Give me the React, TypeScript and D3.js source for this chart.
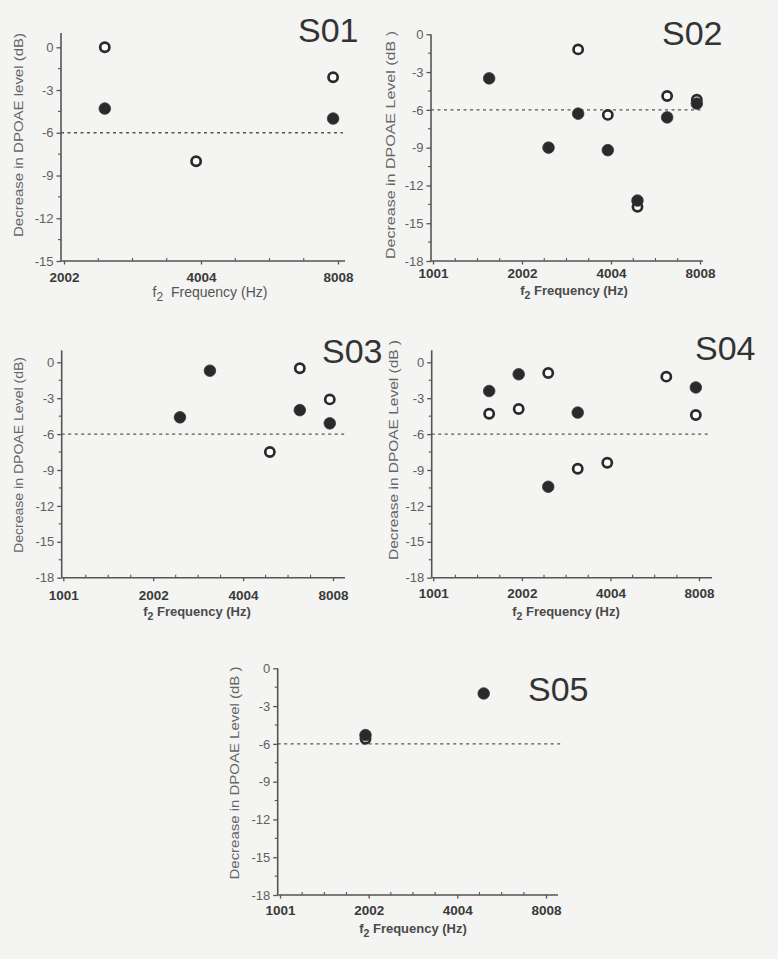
import React, { useEffect, useRef } from 'react'
import * as d3 from 'd3'

const xTicksWide = [1001, 2002, 4004, 8008]
const xTicksS01 = [2002, 4004, 8008]
const yTicks15 = [0, -3, -6, -9, -12, -15]
const yTicks18 = [0, -3, -6, -9, -12, -15, -18]
const criterion = -6

// [f2 frequency (Hz), decrease in DPOAE level (dB)]
const s01Filled = [[2461, -4.3], [7812, -5.0]]
const s01Open = [[2461, 0], [3906, -8.0], [7812, -2.1]]

const s02Filled = [[1550, -3.5], [2461, -9.0], [3100, -6.3], [3906, -9.2], [4921, -13.2], [6200, -6.6], [7812, -5.5]]
const s02Open = [[3100, -1.2], [3906, -6.4], [4921, -13.7], [6200, -4.9], [7812, -5.2]]

const s03Filled = [[2461, -4.6], [3100, -0.7], [6200, -4.0], [7812, -5.1]]
const s03Open = [[4921, -7.5], [6200, -0.5], [7812, -3.1]]

const s04Filled = [[1550, -2.4], [1953, -1.0], [2461, -10.4], [3100, -4.2], [7812, -2.1]]
const s04Open = [[1550, -4.3], [1953, -3.9], [2461, -0.9], [3100, -8.9], [3906, -8.4], [6200, -1.2], [7812, -4.4]]

const s05Filled = [[1953, -5.3], [4921, -2.0]]
const s05Open = [[1953, -5.6]]

const panels = [
	{
		name: 'S01', filled: s01Filled, open: s01Open, xTicks: xTicksS01, yTicks: yTicks15,
		axisX: 61, xr: [64, 338], xEnd: 345, y0: 47.3, yB: 261, yExt: 1, dashEnd: 343,
		title: [298, 42], yLab: [18, 135, 204], xLab: [210, 297], tickBase: 282,
		yText: 'Decrease in DPOAE level (dB)', s01: true,
	},
	{
		name: 'S02', filled: s02Filled, open: s02Open, xTicks: xTicksWide, yTicks: yTicks18,
		axisX: 431, xr: [433, 700], xEnd: 703, y0: 34.3, yB: 261, yExt: 0, dashEnd: 703,
		title: [662, 45], yLab: [390, 145, 228], xLab: [574, 295], tickBase: 278,
		yText: 'Decrease in DPOAE Level (dB )',
	},
	{
		name: 'S03', filled: s03Filled, open: s03Open, xTicks: xTicksWide, yTicks: yTicks18,
		axisX: 61.7, xr: [63.3, 333], xEnd: 345, y0: 362.3, yB: 577.7, yExt: 1, dashEnd: 345,
		title: [322, 363], yLab: [18, 455, 196], xLab: [197, 616], tickBase: 600,
		yText: 'Decrease in DPOAE Level (dB)',
	},
	{
		name: 'S04', filled: s04Filled, open: s04Open, xTicks: xTicksWide, yTicks: yTicks18,
		axisX: 431.7, xr: [433.3, 699], xEnd: 712, y0: 362.3, yB: 577.7, yExt: 1, dashEnd: 708,
		title: [695, 360], yLab: [393, 450, 220], xLab: [566, 616], tickBase: 598,
		yText: 'Decrease in DPOAE Level (dB )',
	},
	{
		name: 'S05', filled: s05Filled, open: s05Open, xTicks: xTicksWide, yTicks: yTicks18,
		axisX: 277.7, xr: [280, 546], xEnd: 558, y0: 668.3, yB: 895, yExt: 0, dashEnd: 562,
		title: [528, 701], yLab: [234, 773, 213], xLab: [413, 933], tickBase: 915,
		yText: 'Decrease in DPOAE Level (dB )',
	},
]

const FONT = 'Arial, "Liberation Sans", Helvetica, sans-serif'
const INK = '#2a2a2a'
const GREY = '#555'

const drawPanel = (svg, p) => {
	const yMin = p.yTicks[p.yTicks.length - 1]
	const x = d3.scaleLog().base(2).domain([p.xTicks[0], 8008]).range(p.xr)
	const y = d3.scaleLinear().domain([yMin, 0]).range([p.yB, p.y0])
	const g = svg.append('g').attr('font-family', FONT)

	// minor ticks, 1/4 octave and 1.5 dB
	const minorX = []
	for (let i = 0; i < p.xTicks.length - 1; i++) {
		for (let k = 1; k < 4; k++) minorX.push(p.xTicks[i] * Math.pow(2, k / 4))
	}
	const minorY = p.yTicks.slice(0, -1).map(v => v - 1.5)

	g.append('g')
		.selectAll('line')
		.data(minorX)
		.join('line')
		.attr('x1', d => x(d)).attr('x2', d => x(d))
		.attr('y1', p.yB).attr('y2', p.yB - 3)
		.attr('stroke', GREY).attr('stroke-width', 1.1)
	g.append('g')
		.selectAll('line')
		.data(minorY)
		.join('line')
		.attr('x1', p.axisX).attr('x2', p.axisX - 3)
		.attr('y1', d => y(d)).attr('y2', d => y(d))
		.attr('stroke', GREY).attr('stroke-width', 1.1)

	// axes
	const fsTick = 13.5
	const xAxis = d3.axisBottom(x)
		.tickValues(p.xTicks)
		.tickFormat(d => String(d))
		.tickSize(3.5)
		.tickSizeOuter(0)
		.tickPadding(p.tickBase - p.yB - 3.5 - fsTick * 0.71)
	const yAxis = d3.axisLeft(y)
		.tickValues(p.yTicks)
		.tickFormat(d => String(d))
		.tickSize(4.5)
		.tickSizeOuter(0)
		.tickPadding(3)

	const gx = g.append('g').attr('transform', `translate(0, ${p.yB})`).call(xAxis)
	const gy = g.append('g').attr('transform', `translate(${p.axisX}, 0)`).call(yAxis)
	gx.select('.domain').remove()
	gy.select('.domain').remove()
	gx.selectAll('line').attr('stroke', GREY).attr('stroke-width', 1.3)
	gy.selectAll('line').attr('stroke', GREY).attr('stroke-width', 1.3)
	gx.selectAll('text')
		.attr('font-family', FONT).attr('font-size', fsTick).attr('font-weight', 'bold').attr('fill', '#3a3a3a')
	gy.selectAll('text')
		.attr('font-family', FONT).attr('font-size', 13).attr('fill', '#606060')

	g.append('line')
		.attr('x1', p.axisX).attr('x2', p.xEnd)
		.attr('y1', p.yB).attr('y2', p.yB)
		.attr('stroke', GREY).attr('stroke-width', 1.6)
	g.append('line')
		.attr('x1', p.axisX).attr('x2', p.axisX)
		.attr('y1', p.yB).attr('y2', y(p.yExt))
		.attr('stroke', GREY).attr('stroke-width', 1.6)

	// -6 dB criterion
	g.append('line')
		.attr('x1', p.axisX).attr('x2', p.dashEnd)
		.attr('y1', y(criterion)).attr('y2', y(criterion))
		.attr('stroke', '#555').attr('stroke-width', 1.4)
		.attr('stroke-dasharray', '3,3.5')

	// points: open first, filled on top
	g.append('g')
		.selectAll('circle')
		.data(p.open)
		.join('circle')
		.attr('cx', d => x(d[0])).attr('cy', d => y(d[1]))
		.attr('r', 4.6)
		.attr('fill', '#fbfbfb').attr('stroke', INK).attr('stroke-width', 2.7)
	g.append('g')
		.selectAll('circle')
		.data(p.filled)
		.join('circle')
		.attr('cx', d => x(d[0])).attr('cy', d => y(d[1]))
		.attr('r', 5.8)
		.attr('fill', INK).attr('stroke', '#3a3a3a').attr('stroke-width', 0.8)

	// title
	g.append('text')
		.attr('x', p.title[0]).attr('y', p.title[1])
		.attr('font-size', 34).attr('fill', '#333')
		.text(p.name)

	// y label
	g.append('text')
		.attr('transform', `translate(${p.yLab[0]}, ${p.yLab[1]}) rotate(-90)`)
		.attr('text-anchor', 'middle').attr('dy', '0.35em')
		.attr('font-size', 13).attr('fill', '#666')
		.attr('textLength', p.yLab[2]).attr('lengthAdjust', 'spacingAndGlyphs')
		.text(p.yText)

	// x label
	const xl = g.append('text')
		.attr('x', p.xLab[0]).attr('y', p.xLab[1])
		.attr('text-anchor', 'middle')
		.attr('font-size', p.s01 ? 14 : 13)
		.attr('font-weight', p.s01 ? 'normal' : 'bold')
		.attr('fill', p.s01 ? '#555' : '#4a4a4a')
	xl.append('tspan').text('f')
	xl.append('tspan').attr('dy', 4).attr('font-size', p.s01 ? 12 : 10.5).text('2')
	xl.append('tspan').attr('dy', -4).text(p.s01 ? '\u00a0 Frequency (Hz)' : ' Frequency (Hz)')
}

const App = () => {
	const ref = useRef(null)

	useEffect(() => {
		const svg = d3.select(ref.current)
		svg.selectAll('*').remove()
		svg.append('rect').attr('width', 778).attr('height', 959).attr('fill', '#f4f4f2')
		panels.forEach(p => drawPanel(svg, p))
	}, [])

	return (
		<svg
			ref={ref}
			width={778}
			height={959}
			style={{ position: 'absolute', left: 0, top: 0, display: 'block' }}
		/>
	)
}

export default App
